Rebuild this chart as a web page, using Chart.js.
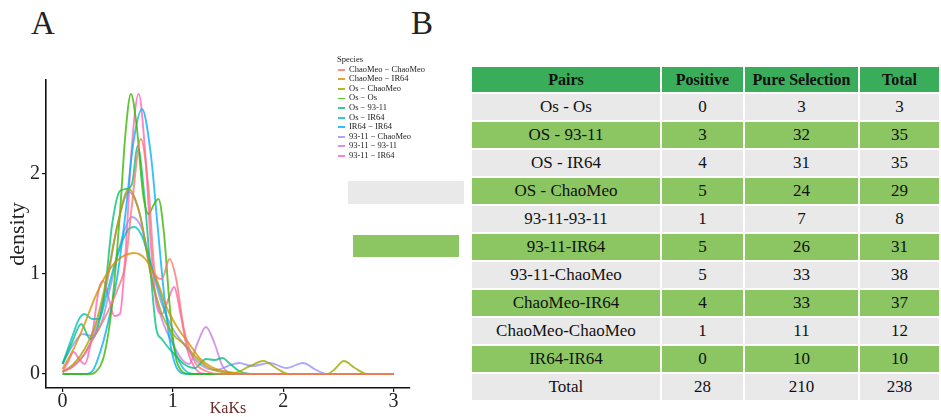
<!DOCTYPE html>
<html>
<head>
<meta charset="utf-8">
<script src="https://cdn.jsdelivr.net/npm/chart.js@4.4.1/dist/chart.umd.min.js"></script>
<style>
  body { margin: 0; width: 941px; height: 417px; background: #fff; position: relative; overflow: hidden; font-family: "Liberation Serif", serif; }
  .panel { position: absolute; font-size: 33px; color: #222; line-height: 1; }
  #plotA { position: absolute; left: 0; top: 0; width: 420px; height: 417px; }
  #legend { position: absolute; left: 337px; top: 55px; font-size: 8.5px; color: #222; line-height: 9.6px; }
  #legend .item { white-space: nowrap; }
  #legend .key { display: inline-block; width: 7px; height: 1.8px; vertical-align: middle; margin-right: 4px; margin-left: 1px; }
  .stray { position: absolute; }
  #tableB { position: absolute; left: 470px; top: 65px; border-collapse: separate; border-spacing: 2px; table-layout: fixed; width: 471px; }
  #tableB td, #tableB th { text-align: center; padding: 0; color: #111; height: 26px; font-size: 17px; font-weight: normal; }
  #tableB th { font-weight: bold; font-size: 16px; height: 25px; background: #3aad5a; }
  #tableB tr.grey td { background: #e9e9e9; }
  #tableB tr.green td { background: #8bc663; }
</style>
</head>
<body>
<div class="panel" style="left:31px; top:7px;">A</div>
<div class="panel" style="left:411px; top:7px;">B</div>
<div id="plotA"><canvas id="densityCanvas"></canvas></div>
<div id="legend"></div>
<div class="stray" style="left:348px; top:181px; width:116px; height:23px; background:#e9e9e9;"></div>
<div class="stray" style="left:353px; top:235px; width:106px; height:22px; background:#8bc663;"></div>
<table id="tableB"></table>

<script>
// ---- panel A: KaKs density curves as [KaKs, density] ----
var kaksTicks = [0, 1, 2, 3];
var densityTicks = [0, 1, 2];

var speciesNames = ["ChaoMeo \u2212 ChaoMeo", "ChaoMeo \u2212 IR64", "Os \u2212 ChaoMeo", "Os \u2212 Os", "Os \u2212 93-11",
                    "Os \u2212 IR64", "IR64 \u2212 IR64", "93-11 \u2212 ChaoMeo", "93-11 \u2212 93-11", "93-11 \u2212 IR64"];

var chaoMeoChaoMeo = [[0,0.02],[0.1,0.08],[0.2,0.2],[0.3,0.4],[0.4,0.6],[0.5,0.85],[0.57,1.1],[0.63,1.7],[0.71,2.35],
                      [0.78,1.85],[0.84,1.0],[0.9,0.95],[0.97,1.15],[1.03,0.95],[1.1,0.45],[1.2,0.12],[1.3,0.03],[1.45,0],[3,0]];
var chaoMeoIR64 = [[0,0.05],[0.1,0.25],[0.2,0.5],[0.3,0.78],[0.4,1.0],[0.5,1.14],[0.65,1.21],[0.75,1.15],[0.85,0.95],
                   [0.95,0.65],[1.05,0.45],[1.15,0.3],[1.25,0.15],[1.35,0.07],[1.5,0.02],[1.7,0],[3,0]];
var osChaoMeo = [[0,0.02],[0.1,0.1],[0.2,0.25],[0.3,0.5],[0.4,0.95],[0.5,1.5],[0.6,1.85],[0.7,1.6],[0.8,1.0],[0.9,0.6],
                 [1.0,0.4],[1.1,0.3],[1.2,0.18],[1.3,0.08],[1.4,0.03],[1.55,0.01],[1.7,0.08],[1.82,0.13],[1.95,0.05],
                 [2.05,0],[2.4,0],[2.47,0.05],[2.55,0.13],[2.65,0.06],[2.76,0],[3,0]];
var osOs = [[0,0],[0.25,0],[0.3,0.02],[0.38,0.2],[0.45,0.7],[0.52,1.6],[0.57,2.4],[0.62,2.8],[0.67,2.5],[0.73,1.8],
            [0.78,1.6],[0.83,1.7],[0.87,1.75],[0.92,1.4],[0.97,0.7],[1.02,0.2],[1.08,0.03],[1.15,0],[3,0]];
var os9311 = [[0,0.1],[0.08,0.3],[0.17,0.5],[0.25,0.35],[0.3,0.4],[0.38,0.8],[0.45,1.5],[0.52,1.83],[0.58,1.85],
              [0.63,1.9],[0.68,2.28],[0.74,1.8],[0.8,1.0],[0.85,0.45],[0.9,0.35],[0.97,0.25],[1.03,0.18],[1.1,0.1],
              [1.2,0.06],[1.3,0.15],[1.38,0.14],[1.45,0.16],[1.52,0.1],[1.6,0.03],[1.7,0],[3,0]];
var osIR64 = [[0,0.1],[0.08,0.35],[0.15,0.55],[0.2,0.6],[0.27,0.55],[0.33,0.55],[0.4,0.8],[0.5,1.2],[0.6,1.45],
              [0.65,1.47],[0.72,1.38],[0.8,1.1],[0.9,0.75],[0.97,0.45],[1.03,0.2],[1.1,0.05],[1.2,0],[3,0]];
var ir64IR64 = [[0,0],[0.2,0],[0.27,0.03],[0.35,0.25],[0.43,0.6],[0.5,1.0],[0.57,1.6],[0.64,2.3],[0.72,2.65],
                [0.8,2.2],[0.86,1.5],[0.92,0.8],[0.97,0.35],[1.02,0.1],[1.08,0.01],[1.15,0],[3,0]];
var c9311ChaoMeo = [[0,0.1],[0.1,0.3],[0.18,0.4],[0.27,0.38],[0.35,0.5],[0.45,0.95],[0.55,1.4],[0.63,1.57],[0.72,1.45],
                    [0.8,1.1],[0.9,0.7],[1.0,0.45],[1.1,0.3],[1.2,0.15],[1.3,0.06],[1.4,0.04],[1.5,0.08],[1.6,0.11],
                    [1.72,0.08],[1.88,0.11],[2.03,0.06],[2.18,0.11],[2.3,0.04],[2.4,0],[3,0]];
var c93119311 = [[0,0.02],[0.1,0.08],[0.2,0.2],[0.3,0.45],[0.4,0.9],[0.5,1.5],[0.6,1.82],[0.7,1.6],[0.8,1.0],[0.9,0.55],
                 [1.0,0.3],[1.08,0.15],[1.15,0.1],[1.22,0.3],[1.3,0.47],[1.38,0.3],[1.45,0.08],[1.55,0],[3,0]];
var c9311IR64 = [[0,0.02],[0.05,0.12],[0.1,0.22],[0.15,0.15],[0.2,0.1],[0.27,0.4],[0.33,0.85],[0.37,0.93],[0.42,0.75],
                 [0.47,0.58],[0.52,0.6],[0.57,1.2],[0.63,2.3],[0.69,2.8],[0.75,2.2],[0.8,1.3],[0.85,0.7],[0.9,0.6],
                 [0.96,0.75],[1.01,0.87],[1.07,0.6],[1.13,0.25],[1.2,0.06],[1.3,0],[3,0]];

var speciesSeries = [chaoMeoChaoMeo, chaoMeoIR64, osChaoMeo, osOs, os9311, osIR64, ir64IR64, c9311ChaoMeo, c93119311, c9311IR64];
var speciesColors = ["#F8766D", "#D89000", "#A3A500", "#39B600", "#00BF7D", "#00BFC4", "#00B0F6", "#9590FF", "#C77CE0", "#FF62BC"];

// ---- panel B: table ----
var pairs = ["Os - Os", "OS - 93-11", "OS - IR64", "OS - ChaoMeo", "93-11-93-11", "93-11-IR64",
             "93-11-ChaoMeo", "ChaoMeo-IR64", "ChaoMeo-ChaoMeo", "IR64-IR64"];
var positive = [0, 3, 4, 5, 1, 5, 5, 4, 1, 0];
var pureSelection = [3, 32, 31, 24, 7, 26, 33, 33, 11, 10];
var totals = [3, 35, 35, 29, 8, 31, 38, 37, 12, 10];
var totalRow = ["Total", 28, 210, 238];
var headers = ["Pairs", "Positive", "Pure Selection", "Total"];
var colWidths = [188, 81, 113, 79];

// legend
var legend = document.getElementById("legend");
var html = '<div>Species</div>';
for (var i = 0; i < speciesNames.length; i++) {
    html += '<div class="item"><span class="key" style="background:' + speciesColors[i] + 'cc"></span>' + speciesNames[i] + '</div>';
}
legend.innerHTML = html;

// table
var t = '<colgroup>';
colWidths.forEach(function(w){ t += '<col style="width:' + w + 'px">'; });
t += '</colgroup><tr>';
headers.forEach(function(h){ t += '<th>' + h + '</th>'; });
t += '</tr>';
for (var r = 0; r < pairs.length; r++) {
    t += '<tr class="' + (r % 2 === 0 ? 'grey' : 'green') + '"><td>' + pairs[r] + '</td><td>' + positive[r] +
         '</td><td>' + pureSelection[r] + '</td><td>' + totals[r] + '</td></tr>';
}
t += '<tr class="grey">';
totalRow.forEach(function(v){ t += '<td>' + v + '</td>'; });
t += '</tr>';
document.getElementById("tableB").innerHTML = t;

//**** density chart ****
var datasets = speciesSeries.map(function(s, i){
    return {
        label: speciesNames[i],
        data: s.map(function(p){ return {x: p[0], y: p[1]}; }),
        borderColor: speciesColors[i] + 'c8',
        borderWidth: 1.9,
        pointRadius: 0,
        fill: false,
        cubicInterpolationMode: 'monotone'
    };
});

var serif = "'Liberation Serif', 'Times New Roman', serif";
new Chart(document.getElementById("densityCanvas"), {
    type: 'line',
    data: { datasets: datasets },
    options: {
        responsive: true,
        maintainAspectRatio: false,
        animation: false,
        layout: { padding: { top: 80, right: 10, left: 0, bottom: 0 } },
        plugins: { legend: { display: false }, tooltip: { enabled: false } },
        scales: {
            x: {
                type: 'linear', min: -0.15, max: 3.15,
                afterBuildTicks: function(a){ a.ticks = kaksTicks.map(function(v){ return {value: v}; }); },
                afterFit: function(a){ a.height = 29; },
                border: { display: true, color: '#111', width: 1.6 },
                grid: { display: true, drawOnChartArea: false, drawTicks: true, tickLength: 4, color: '#111', lineWidth: 1.2 },
                ticks: { padding: -2, color: '#222', font: { family: serif, size: 20 }, maxRotation: 0 },
                title: { display: true, text: 'KaKs', color: '#6b2a2a', font: { family: serif, size: 16, lineHeight: 1 }, padding: 0 }
            },
            y: {
                min: -0.14, max: 2.94,
                afterBuildTicks: function(a){ a.ticks = densityTicks.map(function(v){ return {value: v}; }); },
                afterFit: function(a){ a.width = 46; },
                border: { display: true, color: '#111', width: 1.6 },
                grid: { display: true, drawOnChartArea: false, drawTicks: true, tickLength: 4, color: '#111', lineWidth: 1.2 },
                ticks: { padding: 2, color: '#222', font: { family: serif, size: 20 } },
                title: { display: true, text: 'density', color: '#222', font: { family: serif, size: 22, lineHeight: 1 }, padding: { top: 7, bottom: 0 } }
            }
        }
    }
});
</script>
</body>
</html>
